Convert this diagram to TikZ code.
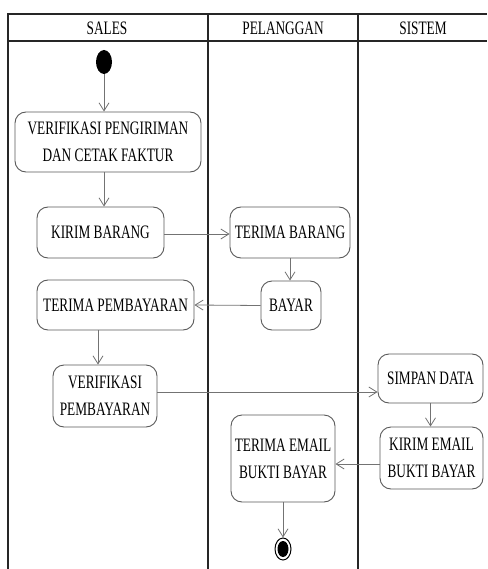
\documentclass[tikz,border=0pt]{standalone}
\usepackage{fontspec}
\setmainfont{Liberation Serif}[FakeStretch=0.70]
\usetikzlibrary{arrows.meta,shapes.geometric}

\tikzset{
  lane/.style={line width=1.6pt, draw=black!85},
  act/.style={draw=black!65, line width=0.9pt, rounded corners=11pt,
    align=center, inner sep=0pt, font=\fontsize{19}{27}\selectfont},
  head/.style={font=\fontsize{19}{20}\selectfont, inner sep=0pt},
  flow/.style={draw=black!55, line width=0.8pt,
    -{Straight Barb[length=8pt,width=10pt,line width=0.8pt]}},
  startdot/.style={ellipse, fill=black, minimum width=16pt, minimum height=24pt, inner sep=0pt},
}

\begin{document}
\begin{tikzpicture}[x=1pt,y=-1pt]
\useasboundingbox (0,0) rectangle (487,569);

% swimlane frame
\draw[lane] (8,569) -- (8,14) -- (487,14);
\draw[lane] (8,41) -- (487,41);
\draw[lane] (208,14) -- (208,569);
\draw[lane] (358,14) -- (358,569);

\node[head] (hsales) at (107,28) {SALES};
\node[head] (hpel) at (283,28) {PELANGGAN};
\node[head] (hsis) at (423,28) {SISTEM};

% activities
\node[startdot] (start) at (104,62) {};
\node[act, minimum width=186pt, minimum height=60pt] (v1) at (108,142)
  {VERIFIKASI PENGIRIMAN\\DAN CETAK FAKTUR};
\node[act, minimum width=127pt, minimum height=51pt] (kb) at (100.5,232.5) {KIRIM BARANG};
\node[act, minimum width=120pt, minimum height=51pt] (tb) at (290,232.5) {TERIMA BARANG};
\node[act, minimum width=60pt, minimum height=49pt] (bayar) at (291,305.5) {BAYAR};
\node[act, minimum width=157pt, minimum height=50pt] (tp) at (115.5,305) {TERIMA PEMBAYARAN};
\node[act, minimum width=104pt, minimum height=62pt] (vp) at (105,396) {VERIFIKASI\\PEMBAYARAN};
\node[act, minimum width=105pt, minimum height=49pt] (sd) at (430.5,378.5) {SIMPAN DATA};
\node[act, minimum width=103pt, minimum height=62pt] (ke) at (431.5,458) {KIRIM EMAIL\\BUKTI BAYAR};
\node[act, minimum width=104pt, minimum height=87pt] (te) at (283,458.5) {TERIMA EMAIL\\BUKTI BAYAR};

% final node
\node[ellipse, draw=black, line width=1pt, fill=white, minimum width=16pt, minimum height=22pt, inner sep=0pt] (end) at (283,549) {};
\node[ellipse, fill=black, minimum width=11pt, minimum height=16pt, inner sep=0pt] (endin) at (end.center) {};

% control flow
\draw[flow] (start.south) -- (start.south |- v1.north);
\draw[flow] (v1.south -| start.south) -- (kb.north -| start.south);
\draw[flow] ([yshift=-1.5pt]kb.east) -- ([yshift=-1.5pt]tb.west);
\draw[flow] (tb.south) -- (tb.south |- bayar.north);
\draw[flow] (bayar.west) -- (tp.east);
\draw[flow] ([xshift=-7pt]vp.north |- tp.south) -- ([xshift=-7pt]vp.north);
\draw[flow] ([yshift=4pt]vp.east) -- ([yshift=4pt]vp.east -| sd.west);
\draw[flow] (sd.south) -- (sd.south |- ke.north);
\draw[flow] ([yshift=-6pt]ke.west) -- ([yshift=-6pt]ke.west -| te.east);
\draw[flow] (te.south) -- (end.north);
\end{tikzpicture}
\end{document}
